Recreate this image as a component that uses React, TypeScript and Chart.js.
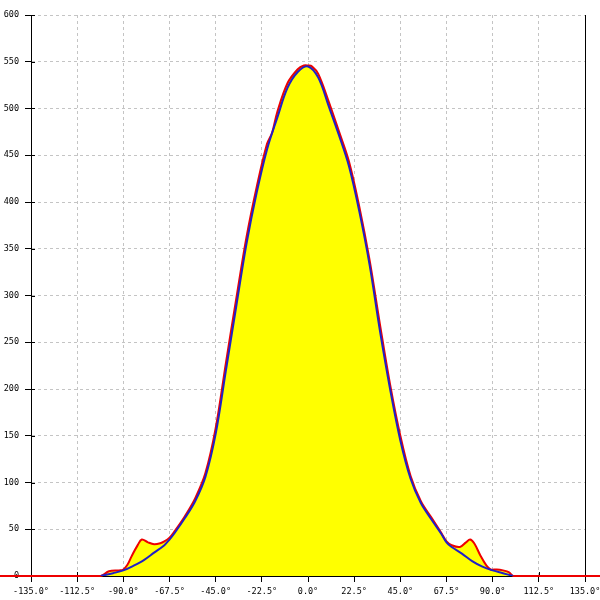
import React, { useEffect, useRef } from "react";
import { Chart, registerables } from "chart.js";

Chart.register(...registerables);

// Measured curve (red)
const redAngles = [-180, -110, -101, -97, -92, -90, -88, -86, -83, -81, -78, -75, -72, -70, -67.5, -65, -60, -55, -50, -45, -40, -35, -30, -25, -20, -17.5, -15, -10, -5, -2, 0, 2, 5, 10, 15, 20, 25, 30, 35, 40, 45, 50, 55, 60, 65, 67.5, 70, 74, 77, 79, 81, 84, 87, 89, 92, 95, 98, 100, 108, 180];
const redValues = [0, 0, 0, 5, 6, 7, 12, 21, 33, 39, 36, 34, 35, 37, 41, 48, 64, 83, 110, 158, 228, 296, 362, 416, 462, 474, 496, 527, 542, 546, 546, 545, 537, 508, 476, 443, 395, 338, 270, 205, 150, 107, 80, 63, 46, 37, 33, 31, 36, 39, 35, 22, 11, 7, 7, 6, 4, 0, 0, 0];

// Fitted curve (blue)
const blueAngles = [-101, -95, -90, -85, -80, -75, -70, -67.5, -65, -60, -55, -50, -45, -40, -35, -30, -25, -20, -15, -10, -5, 0, 5, 10, 15, 20, 25, 30, 35, 40, 45, 50, 55, 60, 65, 67.5, 70, 75, 80, 85, 90, 95, 100];
const blueValues = [0, 3, 6, 11, 17, 25, 33, 39, 46, 62, 80, 106, 152, 220, 288, 355, 410, 456, 490, 522, 539, 545, 533, 503, 472, 438, 390, 333, 263, 200, 145, 104, 78, 61, 45, 36, 31, 24, 16, 10, 6, 3, 0];

const xMin = -135;
const xMax = 135;
const xStep = 22.5;
const yMin = 0;
const yMax = 600;
const yStep = 50;

const FONT = { family: "'DejaVu Sans Mono', monospace", size: 8.5 };

const tickPlugin = {
  id: "innerTicks",
  beforeDatasetsDraw(chart: any) {
    const { ctx, chartArea, scales } = chart;
    const x = scales.x;
    const y = scales.y;
    ctx.save();
    ctx.strokeStyle = "#000";
    ctx.lineWidth = 1;
    ctx.beginPath();
    x.ticks.forEach((t: any) => {
      const px = Math.round(x.getPixelForValue(t.value)) + 0.5;
      ctx.moveTo(px, chartArea.bottom);
      ctx.lineTo(px, chartArea.bottom - 4);
    });
    y.ticks.forEach((t: any) => {
      const py = Math.round(y.getPixelForValue(t.value)) + 0.5;
      ctx.moveTo(chartArea.left, py);
      ctx.lineTo(chartArea.left + 4, py);
    });
    const rx = Math.round(chartArea.right) + 0.5;
    ctx.moveTo(rx, chartArea.top);
    ctx.lineTo(rx, chartArea.bottom);
    ctx.stroke();
    ctx.restore();
  },
};

export default function App() {
  const ref = useRef<HTMLCanvasElement>(null);
  useEffect(() => {
    if (!ref.current) return;
    const chart = new Chart(ref.current, {
      type: "line",
      data: {
        datasets: [
          {
            label: "fit",
            data: blueAngles.map((a, i) => ({ x: a, y: blueValues[i] })),
            borderColor: "#2020c8",
            borderWidth: 2,
            pointRadius: 0,
            fill: false,
            tension: 0.35,
            order: 1,
          },
          {
            label: "measured",
            data: redAngles.map((a, i) => ({ x: a, y: redValues[i] })),
            borderColor: "#ee0000",
            backgroundColor: "#ffff00",
            borderWidth: 2,
            pointRadius: 0,
            fill: "origin",
            tension: 0.35,
            clip: false as any,
            order: 2,
          },
        ],
      },
      options: {
        responsive: false,
        animation: false,
        events: [],
        layout: { padding: { top: 15, right: 15, left: 0, bottom: 0 } },
        plugins: {
          legend: { display: false },
          tooltip: { enabled: false },
        },
        scales: {
          x: {
            type: "linear",
            min: xMin,
            max: xMax,
            afterBuildTicks: (scale: any) => {
              const t = [];
              for (let v = xMin; v <= xMax + 0.001; v += xStep) t.push({ value: v });
              scale.ticks = t;
            },
            afterFit: (scale: any) => {
              scale.height = 24;
              scale.paddingLeft = 0;
              scale.paddingRight = 0;
            },
            ticks: {
              autoSkip: false,
              maxRotation: 0,
              minRotation: 0,
              padding: 5,
              color: "#000",
              font: FONT,
              callback: (v: any) => Number(v).toFixed(1) + "°",
            },
            grid: {
              color: "#c4c4c4",
              tickColor: "#000",
              tickLength: 6,
              lineWidth: 1,
            },
            border: { display: true, color: "#000", width: 1, dash: [3, 3] },
          },
          y: {
            type: "linear",
            min: yMin,
            max: yMax,
            ticks: {
              stepSize: yStep,
              padding: 6,
              color: "#000",
              font: FONT,
            },
            afterFit: (scale: any) => {
              scale.width = 31;
              scale.paddingTop = 0;
              scale.paddingBottom = 0;
            },
            grid: {
              color: "#c4c4c4",
              tickColor: "#000",
              tickLength: 6,
              lineWidth: 1,
            },
            border: { display: true, color: "#000", width: 1, dash: [3, 3] },
          },
        },
      },
      plugins: [tickPlugin],
    });
    return () => chart.destroy();
  }, []);
  return (
    <div style={{ position: "absolute", left: 0, top: 0, width: 600, height: 600, background: "#fff" }}>
      <canvas ref={ref} width={600} height={600} style={{ display: "block" }} />
    </div>
  );
}
